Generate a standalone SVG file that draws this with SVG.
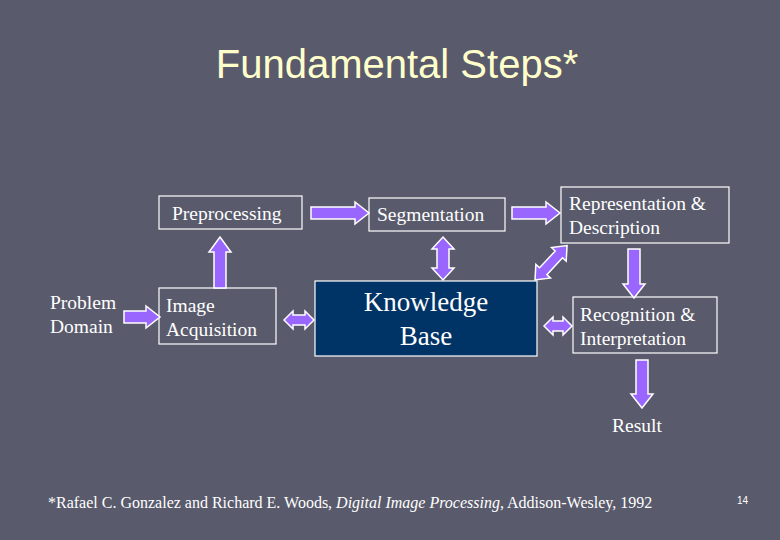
<svg xmlns="http://www.w3.org/2000/svg" width="780" height="540" viewBox="0 0 780 540">
<style>
.t{font-family:"Liberation Serif",serif;fill:#fff;font-size:19.5px}
.k{font-family:"Liberation Serif",serif;fill:#fff;font-size:27px}
.b{fill:none;stroke:#fff;stroke-width:1.2}
.a{fill:#9966ff;stroke:#fff;stroke-width:1.5;stroke-linejoin:miter}
</style>
<rect width="780" height="540" fill="#595a6b"/>
<text x="397" y="78" text-anchor="middle" font-family="Liberation Sans,sans-serif" font-size="40" fill="#ffffcc">Fundamental Steps*</text>
<g id="problem"><text class="t" x="50" y="309">Problem</text><text class="t" x="50" y="333">Domain</text></g>
<g id="preprocessing"><rect class="b" x="159" y="196" width="143" height="33"/><text class="t" x="172" y="220">Preprocessing</text></g>
<g id="segmentation"><rect class="b" x="369" y="198" width="136" height="33"/><text class="t" x="377" y="221">Segmentation</text></g>
<g id="representation"><rect class="b" x="561" y="187" width="168" height="56"/><text class="t" x="569" y="210">Representation &amp;</text><text class="t" x="569" y="234">Description</text></g>
<g id="acquisition"><rect class="b" x="159" y="288" width="117" height="56"/><text class="t" x="166" y="312">Image</text><text class="t" x="166" y="336">Acquisition</text></g>
<g id="knowledge"><rect x="315" y="281" width="222" height="75" fill="#003366" stroke="#fff" stroke-width="1.2"/><text class="k" x="426" y="311" text-anchor="middle">Knowledge</text><text class="k" x="426" y="345" text-anchor="middle">Base</text></g>
<g id="recognition"><rect class="b" x="573" y="297" width="144" height="56"/><text class="t" x="580" y="321">Recognition &amp;</text><text class="t" x="580" y="345">Interpretation</text></g>
<g id="result"><text class="t" x="612" y="432">Result</text></g>
<g id="connectors">
<polygon class="a" transform="translate(124,317)" points="0,-6 22,-6 22,-11 36,0 22,11 22,6 0,6"/>
<polygon class="a" transform="translate(220,288) rotate(-90)" points="0,-6 36,-6 36,-11 51,0 36,11 36,6 0,6"/>
<polygon class="a" transform="translate(311,213)" points="0,-6 44,-6 44,-11 58,0 44,11 44,6 0,6"/>
<polygon class="a" transform="translate(512,213)" points="0,-6 34,-6 34,-11 48,0 34,11 34,6 0,6"/>
<polygon class="a" transform="translate(634,249) rotate(90)" points="0,-6 35,-6 35,-11 49,0 35,11 35,6 0,6"/>
<polygon class="a" transform="translate(642,360) rotate(90)" points="0,-6 34,-6 34,-11 48,0 34,11 34,6 0,6"/>
<polygon class="a" transform="translate(443,237) rotate(90)" points="0,0 12,-11 12,-6 31,-6 31,-11 43,0 31,11 31,6 12,6 12,11"/>
<polygon class="a" transform="translate(284,320)" points="0,0 9,-9 9,-5 21,-5 21,-9 30,0 21,9 21,5 9,5 9,9"/>
<polygon class="a" transform="translate(544,326)" points="0,0 9,-9 9,-5 19,-5 19,-9 28,0 19,9 19,5 9,5 9,9"/>
<polygon class="a" transform="translate(535,280) rotate(-47)" points="0,0 12,-10 12,-5 35,-5 35,-10 47,0 35,10 35,5 12,5 12,10"/>
</g>
<text x="48" y="508" font-family="Liberation Serif,serif" font-size="16" fill="#fff">*Rafael C. Gonzalez and Richard E. Woods, <tspan font-style="italic">Digital Image Processing</tspan>, Addison-Wesley, 1992</text>
<text x="737" y="504" font-family="Liberation Sans,sans-serif" font-size="10" fill="#fff">14</text>
</svg>
